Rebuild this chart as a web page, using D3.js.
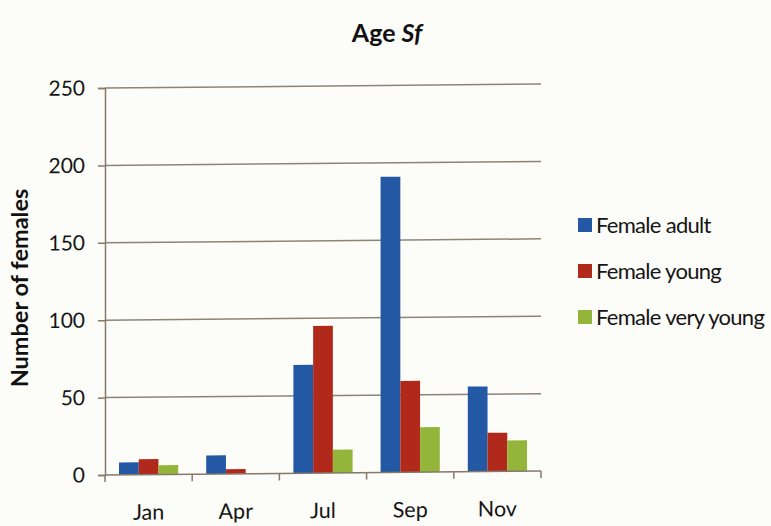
<!DOCTYPE html>
<html>
<head>
<meta charset="utf-8">
<script src="https://cdn.jsdelivr.net/npm/d3@7"></script>
<style>
  html, body { margin: 0; padding: 0; background: #fcfcf9; }
  svg { display: block; font-family: Lato, "Open Sans", sans-serif; }
</style>
</head>
<body>
<svg id="chart" width="771" height="526"></svg>
<script>
// Monthly counts of females by age class
const months = ["Jan", "Apr", "Jul", "Sep", "Nov"];
const seriesNames = ["Female adult", "Female young", "Female very young"];
const femaleAdult = [8, 12, 70, 191, 55];
const femaleYoung = [10, 3, 95, 59, 25];
const femaleVeryYoung = [6, 0, 15, 29, 20];
const yTicks = [0, 50, 100, 150, 200, 250];
const colors = ["#2358a4", "#b0291b", "#92b53a"];

const series = [femaleAdult, femaleYoung, femaleVeryYoung];
const rows = months.map((m, i) => ({ month: m, values: series.map((s, k) => ({ key: seriesNames[k], value: s[i] })) }));

const svg = d3.select("#chart");
const plotLeft = 105, plotRight = 541, plotTop = 88, plotBottom = 475;
const axisColor = "#86796a";
const textColor = "#151515";

const x0 = d3.scaleBand().domain(months).range([plotLeft, plotRight]).padding(0);
const x1 = d3.scaleBand().domain(seriesNames).range([14, x0.bandwidth() - 14]).padding(0);
const y = d3.scaleLinear().domain([0, 250]).range([plotBottom, plotTop]);

// plot area, slightly sheared upward toward the right
const plot = svg.append("g")
  .attr("transform", `translate(${plotLeft},0) skewY(-0.52) translate(${-plotLeft},0)`);

// horizontal gridlines
plot.append("g").selectAll("line")
  .data(yTicks.filter(t => t > 0))
  .join("line")
  .attr("x1", plotLeft).attr("x2", plotRight)
  .attr("y1", d => y(d)).attr("y2", d => y(d))
  .attr("stroke", "#8d8478").attr("stroke-width", 1.5);

// bars
plot.append("g").selectAll("g")
  .data(rows)
  .join("g")
  .attr("transform", d => `translate(${x0(d.month)},0)`)
  .selectAll("rect")
  .data(d => d.values)
  .join("rect")
  .attr("x", d => x1(d.key))
  .attr("width", x1.bandwidth())
  .attr("y", d => y(d.value))
  .attr("height", d => y(0) - y(d.value))
  .attr("fill", (d, i) => colors[i]);

// y axis
const yAxis = plot.append("g")
  .attr("transform", `translate(${plotLeft},0)`)
  .call(d3.axisLeft(y).tickValues(yTicks).tickSize(7).tickPadding(13));
yAxis.select(".domain").attr("stroke", axisColor).attr("stroke-width", 1.5);
yAxis.selectAll(".tick line").attr("stroke", axisColor).attr("stroke-width", 1.5);
yAxis.selectAll(".tick text")
  .attr("font-size", 21).attr("fill", textColor)
  .attr("font-family", "Lato, sans-serif");

// x axis with ticks at category boundaries
const xAxisG = plot.append("g").attr("transform", `translate(0,${plotBottom})`);
xAxisG.append("line")
  .attr("x1", plotLeft).attr("x2", plotRight)
  .attr("stroke", axisColor).attr("stroke-width", 1.5);
xAxisG.selectAll("line.tick")
  .data(months.map(m => x0(m)).concat([plotRight]))
  .join("line")
  .attr("class", "tick")
  .attr("x1", d => d).attr("x2", d => d)
  .attr("y1", 0).attr("y2", 7)
  .attr("stroke", axisColor).attr("stroke-width", 1.5);
xAxisG.selectAll("text")
  .data(months)
  .join("text")
  .attr("x", d => x0(d) + x0.bandwidth() / 2)
  .attr("y", 45)
  .attr("text-anchor", "middle")
  .attr("font-size", 21.5).attr("fill", textColor)
  .text(d => d);

// title
const title = svg.append("text")
  .attr("x", 387).attr("y", 42)
  .attr("text-anchor", "middle")
  .attr("font-size", 25).attr("font-weight", "bold").attr("fill", "#111");
title.append("tspan").text("Age ");
title.append("tspan").attr("font-style", "italic").text("Sf");

// y axis title
svg.append("text")
  .attr("transform", "translate(28,288) rotate(-90)")
  .attr("text-anchor", "middle")
  .attr("font-size", 23.5).attr("font-weight", "bold").attr("fill", "#111")
  .text("Number of females");

// legend
const legend = svg.append("g").attr("transform", "translate(578,225)");
const item = legend.selectAll("g")
  .data(seriesNames)
  .join("g")
  .attr("transform", (d, i) => `translate(0,${i * 46})`);
item.append("rect")
  .attr("x", 0).attr("y", -7)
  .attr("width", 14).attr("height", 14)
  .attr("fill", (d, i) => colors[i]);
item.append("text")
  .attr("x", 18).attr("y", 8)
  .attr("font-size", 22).attr("fill", textColor)
  .attr("letter-spacing", -0.7)
  .text(d => d);
</script>
</body>
</html>
